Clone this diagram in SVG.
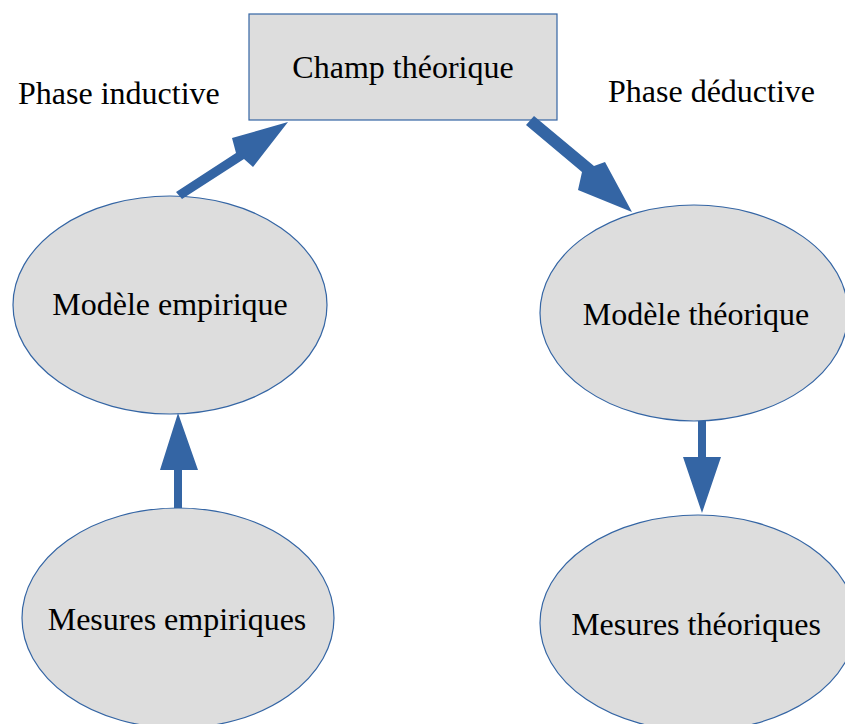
<svg xmlns="http://www.w3.org/2000/svg" width="845" height="724" viewBox="0 0 845 724">
<style>
.n{fill:#dddddd;stroke:#3465a4;stroke-width:1.2}
.t{font-family:"Liberation Serif","Times New Roman",serif;font-size:32px;fill:#000}
.c{text-anchor:middle}
.a{fill:#3465a4}
</style>
<rect width="845" height="724" fill="#fff"/>
<g id="champ"><rect class="n" x="249" y="14" width="308" height="106"/><text class="t c" x="403" y="78">Champ théorique</text></g>
<g id="modele-empirique"><ellipse class="n" cx="170" cy="305" rx="157" ry="109"/><text class="t c" x="170" y="315">Modèle empirique</text></g>
<g id="mesures-empiriques"><ellipse class="n" cx="178" cy="618" rx="156" ry="110"/><text class="t c" x="177" y="630">Mesures empiriques</text></g>
<g id="modele-theorique"><ellipse class="n" cx="694" cy="313" rx="154" ry="108"/><text class="t c" x="696" y="325">Modèle théorique</text></g>
<g id="mesures-theoriques"><ellipse class="n" cx="698" cy="623" rx="158" ry="108"/><text class="t c" x="696" y="635">Mesures théoriques</text></g>
<g id="labels"><text class="t" x="18" y="104">Phase inductive</text><text class="t" x="608" y="102">Phase déductive</text></g>
<g id="connectors">
<polygon class="a" points="176,192 236,153 232,138 288,122 253,167 244,159 182,199"/>
<polygon class="a" points="526,125 582,172 578,190 632,212 605,162 594,166 534,116"/>
<polygon class="a" points="174,508 174,470 160,470 178,413 198,470 182,470 182,508"/>
<polygon class="a" points="698,421 698,457 683,457 702,513 721,457 706,457 706,421"/>
</g>
</svg>
